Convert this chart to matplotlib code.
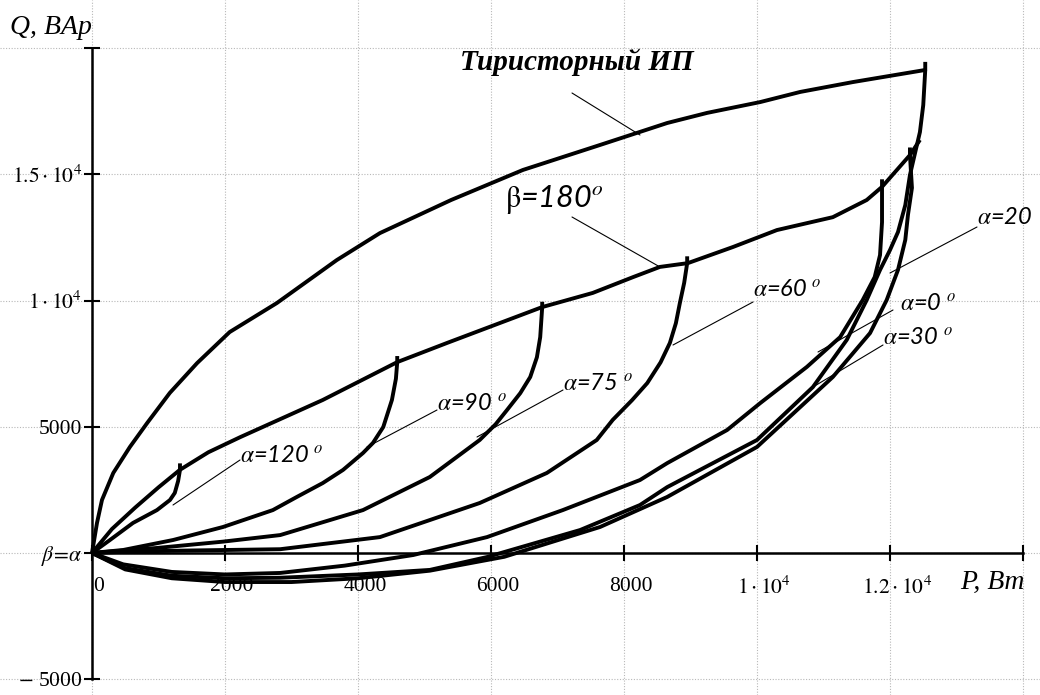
import matplotlib
matplotlib.use("Agg")
import matplotlib.pyplot as plt
from matplotlib.transforms import ScaledTranslation

plt.rcParams['font.family'] = ['Liberation Serif', 'DejaVu Serif']
plt.rcParams['mathtext.fontset'] = 'stix'

# ---------------- data (P, W  /  Q, VAr) ----------------
thyr_P = [0, 75, 150, 320, 570, 830, 1170, 1580, 2070, 2780, 3680, 4330, 5400, 6480, 7640, 8650, 9250, 10050, 10650, 11440, 12530, 12530]
thyr_Q = [0, 1190, 2100, 3170, 4200, 5150, 6340, 7520, 8750, 9900, 11600, 12670, 13980, 15170, 16160, 17030, 17430, 17860, 18260, 18650, 19130, 19450]

b180_P = [0, 300, 650, 1000, 1320, 1750, 2230, 3470, 4590, 5340, 6770, 7530, 8140, 8540, 8960, 9640, 10300, 11140, 11650, 11880, 12300, 12450]
b180_Q = [0, 950, 1800, 2600, 3290, 3990, 4590, 6060, 7560, 8320, 9740, 10300, 10930, 11330, 11480, 12120, 12790, 13300, 13980, 14500, 15760, 16360]

a120_P = [0, 270, 616, 977, 1173, 1245, 1295, 1323, 1323]
a120_Q = [0, 515, 1190, 1700, 2100, 2380, 2850, 3290, 3550]

a90_P = [0, 470, 1220, 1970, 2720, 3080, 3470, 3775, 4075, 4225, 4380, 4510, 4570, 4590, 4590]
a90_Q = [0, 120, 515, 1030, 1700, 2220, 2770, 3290, 3960, 4360, 4990, 6060, 6900, 7560, 7800]

a75_P = [0, 980, 1970, 2830, 4075, 5080, 5830, 6070, 6240, 6440, 6590, 6690, 6740, 6770, 6770]
a75_Q = [0, 200, 450, 710, 1700, 3010, 4475, 5100, 5660, 6330, 6970, 7750, 8550, 9740, 9950]

a60_P = [0, 600, 1500, 2830, 4330, 5830, 6840, 7590, 7830, 8120, 8350, 8550, 8690, 8780, 8840, 8905, 8950, 8950]
a60_Q = [0, 60, 100, 150, 630, 1980, 3170, 4475, 5270, 6050, 6730, 7550, 8320, 9100, 9900, 10700, 11480, 11750]

a30_P = [0, 470, 1200, 2000, 2830, 3800, 4830, 5940, 7080, 8240, 8650, 9550, 10050, 10750, 11250, 11590, 11770, 11850, 11880, 11880, 11880]
a30_Q = [0, -450, -750, -850, -790, -500, -80, 630, 1700, 2890, 3560, 4870, 5940, 7370, 8550, 10020, 10930, 11800, 13100, 14500, 14800]

a0_P = [0, 500, 1200, 2000, 2830, 4000, 5080, 5940, 7340, 8240, 8650, 10000, 10840, 11350, 11650, 11850, 12000, 12120, 12230, 12300, 12380, 12450, 12500, 12530]
a0_Q = [0, -600, -900, -1000, -980, -850, -670, -160, 910, 1900, 2610, 4475, 6570, 8440, 10020, 11210, 12000, 12710, 13780, 14970, 15880, 16670, 17740, 19130]

a20_P = [0, 500, 1200, 2000, 3000, 4000, 5080, 6200, 7640, 8650, 10000, 11140, 11700, 11950, 12120, 12230, 12270, 12330, 12300, 12300]
a20_Q = [0, -650, -1000, -1150, -1150, -1000, -700, -150, 1030, 2220, 4200, 6970, 8710, 10020, 11210, 12400, 13390, 14460, 15760, 16060]

x_ticks = [0, 2000, 4000, 6000, 8000, 10000, 12000, 14000]
x_labels = ['0', '2000', '4000', '6000', '8000', r'$1\cdot10^4$', r'$1.2\cdot10^4$', '']
y_ticks = [-5000, 0, 5000, 10000, 15000, 20000]
y_labels = [r'$-$ 5000', r'$\beta\!=\!\alpha$', '5000', r'$1\cdot10^4$', r'$1.5\cdot10^4$', '']

# ---------------- figure / pixel mapping ----------------
W, H = 1040, 695
X0, SX = 92.0, 66.5     # px of P=0, px per 1000 W
Y0, SY = 553.0, 25.25   # px of Q=0, px per 1000 VAr


def px(x, y):
    return (x - X0) / SX * 1000.0, (Y0 - y) / SY * 1000.0


fig = plt.figure(figsize=(W / 100, H / 100), dpi=100)
ax = fig.add_axes([0, 0, 1, 1])
xl, _ = px(0, 0)
xr, _ = px(W, 0)
_, yt = px(0, 0)
_, yb = px(0, H)
ax.set_xlim(xl, xr)
ax.set_ylim(yb, yt)

for s in ['top', 'right']:
    ax.spines[s].set_visible(False)
ax.spines['left'].set_position(('data', 0))
ax.spines['bottom'].set_position(('data', 0))
ax.spines['left'].set_bounds(-5000, 20000)
ax.spines['bottom'].set_bounds(0, 14000)
ax.spines['left'].set_linewidth(1.8)
ax.spines['bottom'].set_linewidth(1.8)

ax.set_xticks(x_ticks)
ax.set_xticklabels(x_labels)
ax.set_yticks(y_ticks)
ax.set_yticklabels(y_labels)
ax.tick_params(axis='both', direction='inout', length=12, width=1.5, labelsize=15.5)
ax.tick_params(axis='x', pad=11)
ax.tick_params(axis='y', pad=1)
for lbl in ax.get_xticklabels():
    lbl.set_transform(lbl.get_transform() + ScaledTranslation(7 / 100, 0, fig.dpi_scale_trans))

ax.grid(True, color='#b8b8b8', linestyle=(0, (1, 1.5)), linewidth=0.8)
ax.set_axisbelow(True)

lw = 2.8
kw = dict(color='black', lw=lw, solid_joinstyle='round', solid_capstyle='butt')
for P, Q in [(thyr_P, thyr_Q), (b180_P, b180_Q), (a120_P, a120_Q), (a90_P, a90_Q),
             (a75_P, a75_Q), (a60_P, a60_Q), (a30_P, a30_Q), (a0_P, a0_Q), (a20_P, a20_Q)]:
    ax.plot(P, Q, **kw)

# ---------------- leaders ----------------
leaders = [((572, 93), (640, 135)), ((572, 217), (660, 267)), ((240, 460), (173, 505)),
           ((437, 410), (367, 447)), ((563, 390), (477, 437)), ((753, 302), (673, 345)),
           ((977, 227), (890, 273)), ((893, 310), (818, 352)), ((883, 345), (813, 387))]
for (a, b) in leaders:
    ax.annotate('', xy=px(*b), xytext=px(*a),
                arrowprops=dict(arrowstyle='-', lw=0.8, color='black', shrinkA=0, shrinkB=0))

# ---------------- labels ----------------
sans = ['Lato', 'DejaVu Sans']
alab = [(r'$\alpha$=120 $^o$', 240, 455), (r'$\alpha$=90 $^o$', 437, 403),
        (r'$\alpha$=75 $^o$', 563, 383), (r'$\alpha$=60 $^o$', 753, 290),
        (r'$\alpha$=0 $^o$', 900, 303), (r'$\alpha$=30 $^o$', 883, 338),
        (r'$\alpha$=20', 977, 218)]
for t, x, y in alab:
    ax.text(*px(x, y), t, family=sans, style='italic', fontsize=17, ha='left', va='center')

ax.text(*px(505, 200), r'$\mathrm{\beta}$=180$^o$', family=sans, style='italic', fontsize=22,
        ha='left', va='center')
ax.text(*px(460, 62), 'Тиристорный ИП', family=['Liberation Serif'], style='italic',
        weight='bold', fontsize=21, ha='left', va='center')
ax.text(*px(10, 28), 'Q, BAp', family=['Liberation Serif'], style='italic', fontsize=20,
        ha='left', va='center')
ax.text(*px(960, 582), 'P, Bm', family=['Liberation Serif'], style='italic', fontsize=20,
        ha='left', va='center')

fig.savefig('out.png', dpi=100)
